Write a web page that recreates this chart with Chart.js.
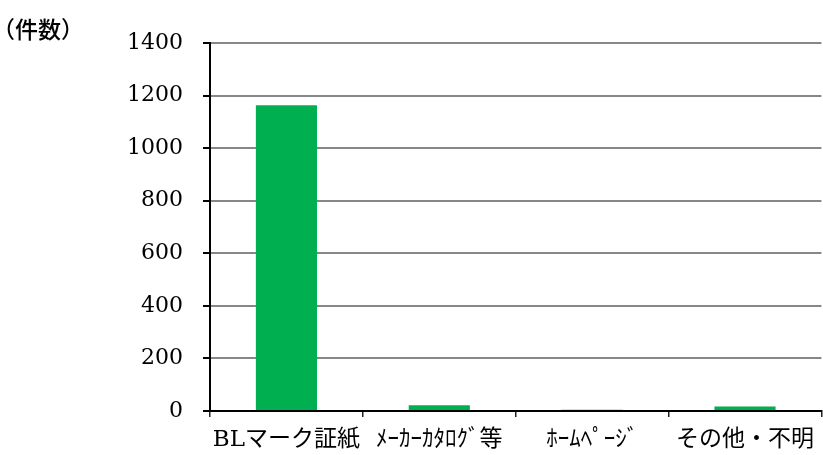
<!DOCTYPE html>
<html lang="ja">
<head>
<meta charset="utf-8">
<script src="https://cdn.jsdelivr.net/npm/chart.js@4"></script>
<style>
  html, body { margin: 0; padding: 0; background: #fff; }
  #wrap { position: relative; width: 823px; height: 455px; }
</style>
</head>
<body>
<div id="wrap"><canvas id="chart" width="823" height="455"></canvas></div>
<script>
  // 入手経路別の件数
  const categories = ['BLマーク証紙', 'ﾒｰｶｰｶﾀﾛｸﾞ等', 'ﾎｰﾑﾍﾟｰｼﾞ', 'その他・不明'];
  const counts = [1163, 22, 5, 17];
  const yTicks = [0, 200, 400, 600, 800, 1000, 1200, 1400];

  const BAR = '#00b050';
  const GRID = '#878787';
  const AXIS = '#000000';
  const FONT = '"DejaVu Serif", "Noto Sans CJK JP", serif';

  // 左上の単位ラベル
  const unitLabel = {
    id: 'unitLabel',
    afterDraw(chart) {
      const ctx = chart.ctx;
      ctx.save();
      ctx.font = '500 23px "Noto Sans CJK JP", sans-serif';
      ctx.fillStyle = '#000';
      ctx.textBaseline = 'middle';
      ctx.textAlign = 'left';
      ctx.fillText('（件数）', -8, 29);
      ctx.restore();
    },
  };

  new Chart(document.getElementById('chart'), {
    type: 'bar',
    data: {
      labels: categories,
      datasets: [{
        data: counts,
        backgroundColor: BAR,
        borderWidth: 0,
        categoryPercentage: 1,
        barPercentage: 0.4,
      }],
    },
    options: {
      responsive: false,
      animation: false,
      layout: { padding: { top: 43, right: 0, bottom: 0, left: 0 } },
      plugins: { legend: { display: false }, tooltip: { enabled: false } },
      scales: {
        x: {
          afterFit: (scale) => { scale.height = 44; },
          border: { color: AXIS, width: 2 },
          grid: {
            offset: true,
            drawOnChartArea: false,
            tickLength: 6,
            tickColor: '#222',
            lineWidth: 1.5,
          },
          ticks: {
            color: '#000',
            padding: 9,
            maxRotation: 0,
            autoSkip: false,
            font: { family: FONT, size: 23 },
          },
        },
        y: {
          min: 0,
          max: 1400,
          afterFit: (scale) => { scale.width = 210; },
          afterBuildTicks: (scale) => { scale.ticks = yTicks.map((v) => ({ value: v })); },
          border: { color: AXIS, width: 2 },
          grid: {
            color: (ctx) => (ctx.tick && ctx.tick.value === 0 ? AXIS : GRID),
            lineWidth: 2,
            tickLength: 7,
            tickColor: AXIS,
          },
          ticks: {
            color: '#000',
            padding: 20,
            font: { family: FONT, size: 22 },
            callback: (value) => String(value),
          },
        },
      },
    },
    plugins: [unitLabel],
  });
</script>
</body>
</html>
